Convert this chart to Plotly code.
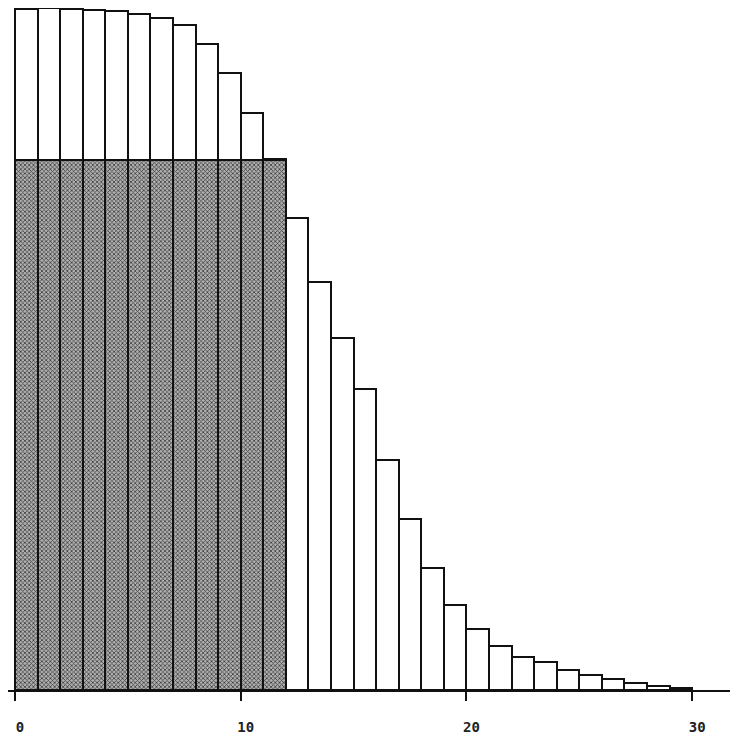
import plotly.graph_objects as go

# Histogram bins (1..30) and their heights (arbitrary units)
bins = list(range(1, 31))
heights = [681, 682, 681, 680, 679, 676, 672, 665, 646, 617, 577, 531,
           472, 408, 352, 301, 230, 171, 122, 85, 61, 44, 33, 28, 20, 15,
           11, 7, 4, 2]
# clipping level of the shaded (equalised) part and the bins it covers
clip_level = 530
shaded_bins = bins[:12]
shaded_heights = [min(h, clip_level) for h in heights[:12]]

tick_vals = [0, 10, 20, 30]
tick_text = ["0", "10", "20", "30"]

centers = [b - 0.5 for b in bins]
shaded_centers = [b - 0.5 for b in shaded_bins]

fig = go.Figure()
fig.add_trace(go.Bar(
    x=centers, y=heights, width=1,
    marker=dict(color="white", line=dict(color="#111", width=2)),
    showlegend=False, hoverinfo="skip",
))
fig.add_trace(go.Bar(
    x=shaded_centers, y=shaded_heights, width=1,
    marker=dict(
        color="#8a8a8a",
        line=dict(color="#111", width=2),
        pattern=dict(shape="x", size=3, solidity=0.45,
                     fgcolor="#3a3a3a", bgcolor="#b0b0b0", fillmode="replace"),
    ),
    showlegend=False, hoverinfo="skip",
))

# the page body adds an 8px margin, so the figure is 730x732 to fit the window
fig.update_layout(
    width=730, height=732,
    margin=dict(l=0, r=0, t=0, b=50),
    paper_bgcolor="white", plot_bgcolor="white",
    barmode="overlay", bargap=0,
    xaxis=dict(
        range=[-0.31, 32.03],
        tickmode="array", tickvals=tick_vals, ticktext=tick_text,
        ticks="outside", ticklen=9, tickwidth=2, tickcolor="#111",
        showline=True, linecolor="#111", linewidth=2,
        showgrid=False, zeroline=False,
        ticklabelstandoff=14, ticklabelshift=5,
        tickfont=dict(family="DejaVu Sans Mono", size=14, color="#222",
                      weight="bold"),
    ),
    yaxis=dict(range=[0, 682], visible=False, showgrid=False, zeroline=False),
)

fig.write_html("out.html")
